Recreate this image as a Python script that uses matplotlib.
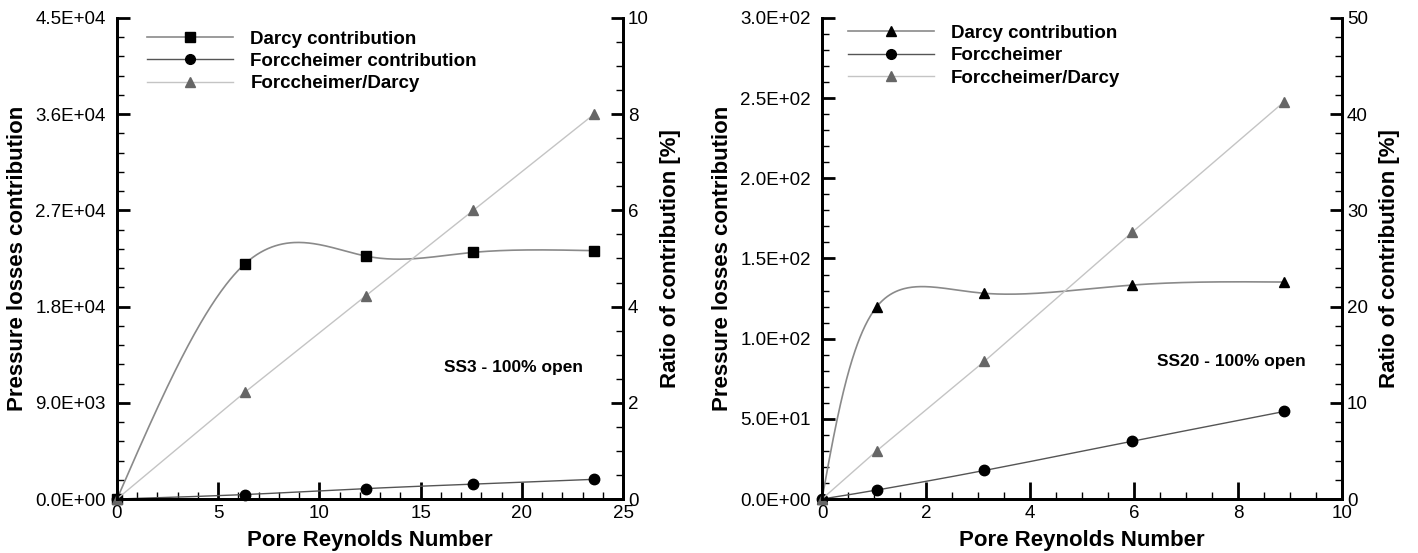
import numpy as np
import matplotlib.pyplot as plt
from matplotlib.ticker import MultipleLocator, FormatStrFormatter
from matplotlib.lines import Line2D

#---    Data
# SS3 panel
re_ss3 = [0.0, 6.32, 12.28, 17.6, 23.57]
darcy_ss3 = [0.0, 22000, 22730, 23070, 23230]
forch_ss3 = [0.0, 420, 973, 1394, 1843]
ratio_ss3 = [0.0, 2.22, 4.22, 6.0, 8.0]

# SS20 panel
re_ss20 = [0.0, 1.05, 3.12, 5.96, 8.89]
darcy_ss20 = [0.0, 119.8, 128.3, 133.4, 135.3]
forch_ss20 = [0.0, 5.6, 17.8, 36.0, 54.6]
ratio_ss20 = [0.0, 5.0, 14.3, 27.7, 41.3]

fs_label = 16
fs_tick = 13.5
fs_leg = 13.5
plt.rcParams['font.family'] = ['Liberation Sans', 'DejaVu Sans']

c_darcy = '#8a8a8a'
c_forch = '#555555'
c_ratio = '#c4c4c4'
c_ratio_mk = '#666666'


def natural(t, y, ts):
    # natural cubic spline of y(t) evaluated at ts
    m = len(t)
    h = np.diff(t)
    A = np.zeros((m, m))
    b = np.zeros(m)
    A[0, 0] = 1
    A[-1, -1] = 1
    for i in range(1, m - 1):
        A[i, i - 1] = h[i - 1]
        A[i, i] = 2 * (h[i - 1] + h[i])
        A[i, i + 1] = h[i]
        b[i] = 6 * ((y[i + 1] - y[i]) / h[i] - (y[i] - y[i - 1]) / h[i - 1])
    M = np.linalg.solve(A, b)
    out = np.empty_like(ts)
    for k, tv in enumerate(ts):
        i = int(np.clip(np.searchsorted(t, tv) - 1, 0, m - 2))
        t1 = t[i + 1] - tv
        t0 = tv - t[i]
        out[k] = (M[i] * t1 ** 3 + M[i + 1] * t0 ** 3) / (6 * h[i]) \
            + (y[i] / h[i] - M[i] * h[i] / 6) * t1 \
            + (y[i + 1] / h[i] - M[i + 1] * h[i] / 6) * t0
    return out


def spline(x, y, n=400):
    # parametric spline (uniform parameter), only for the smooth curve look
    x = np.asarray(x, float)
    y = np.asarray(y, float)
    t = np.arange(len(x), dtype=float)
    ts = np.linspace(0, t[-1], n)
    return natural(t, x, ts), natural(t, y, ts)


def style_axis(ax, ax2):
    for a in (ax, ax2):
        for s in a.spines.values():
            s.set_linewidth(2.0)
        a.spines['top'].set_visible(False)
    ax.tick_params(which='major', direction='in', length=9, width=2, labelsize=fs_tick,
                   right=False, top=False)
    ax.tick_params(which='minor', direction='in', length=5, width=1, right=False, top=False)
    ax.tick_params(axis='x', which='major', length=12, pad=4)
    ax.tick_params(axis='y', which='major', pad=8)
    ax2.tick_params(which='major', direction='in', length=9, width=2, labelsize=fs_tick)
    ax2.tick_params(which='minor', direction='in', length=5, width=1)


fig = plt.figure(figsize=(14.18, 5.53), dpi=100)

panels = [
    dict(pos=[0.0825, 0.0976, 0.3569, 0.870], x=re_ss3, d=darcy_ss3, f=forch_ss3, r=ratio_ss3,
         xlim=25, xmaj=5, xmin=1, ylim=45000, ymaj=9000, ymin=1800, rlim=10, rmaj=2, rmin=0.5,
         dmarker='s', labels=['Darcy contribution', 'Forccheimer contribution', 'Forccheimer/Darcy'],
         note='SS3 - 100% open', note_xy=(19.6, 12300), leg=(0.030, 1.005)),
    dict(pos=[0.5797, 0.0976, 0.3667, 0.870], x=re_ss20, d=darcy_ss20, f=forch_ss20, r=ratio_ss20,
         xlim=10, xmaj=2, xmin=0.5, ylim=300, ymaj=50, ymin=10, rlim=50, rmaj=10, rmin=2,
         dmarker='^', labels=['Darcy contribution', 'Forccheimer', 'Forccheimer/Darcy'],
         note='SS20 - 100% open', note_xy=(7.88, 86), leg=(0.021, 1.017)),
]

for p in panels:
    ax = fig.add_axes(p['pos'])
    ax2 = ax.twinx()

    xs, ys = spline(p['x'], p['d'])
    ax.plot(xs, ys, color=c_darcy, linewidth=1.2, zorder=2)
    ax.plot(p['x'], p['d'], linestyle='none', marker=p['dmarker'], color='black',
            markersize=7.5, zorder=3, clip_on=False)
    xs, ys = spline(p['x'], p['f'])
    ax.plot(xs, ys, color=c_forch, linewidth=1.0, zorder=2)
    ax.plot(p['x'], p['f'], linestyle='none', marker='o', color='black',
            markersize=7.5, zorder=3, clip_on=False)
    ax2.plot(p['x'], p['r'], color=c_ratio, linewidth=1.0, marker='^', markersize=7.5,
             markerfacecolor=c_ratio_mk, markeredgecolor=c_ratio_mk, clip_on=False)

    ax.set_xlim(0, p['xlim'])
    ax.set_ylim(0, p['ylim'])
    ax2.set_ylim(0, p['rlim'])
    ax.xaxis.set_major_locator(MultipleLocator(p['xmaj']))
    ax.xaxis.set_minor_locator(MultipleLocator(p['xmin']))
    ax.yaxis.set_major_locator(MultipleLocator(p['ymaj']))
    ax.yaxis.set_minor_locator(MultipleLocator(p['ymin']))
    ax2.yaxis.set_major_locator(MultipleLocator(p['rmaj']))
    ax2.yaxis.set_minor_locator(MultipleLocator(p['rmin']))
    ax.yaxis.set_major_formatter(FormatStrFormatter('%.1E'))
    ax.xaxis.set_major_formatter(FormatStrFormatter('%g'))
    style_axis(ax, ax2)

    ax.set_xlabel('Pore Reynolds Number', fontsize=fs_label, weight='bold', labelpad=6)
    ax.set_ylabel('Pressure losses contribution', fontsize=fs_label, weight='bold', labelpad=5)
    ax2.set_ylabel('Ratio of contribution [%]', fontsize=fs_label, weight='bold', labelpad=8)

    ax.text(p['note_xy'][0], p['note_xy'][1], p['note'], fontsize=12.5, weight='bold',
            ha='center', va='center')

    handles = [
        Line2D([], [], color=c_darcy, linewidth=1.2, marker=p['dmarker'], markersize=7,
               markerfacecolor='black', markeredgecolor='black'),
        Line2D([], [], color=c_forch, linewidth=1.0, marker='o', markersize=7,
               markerfacecolor='black', markeredgecolor='black'),
        Line2D([], [], color=c_ratio, linewidth=1.0, marker='^', markersize=7,
               markerfacecolor=c_ratio_mk, markeredgecolor=c_ratio_mk),
    ]
    leg = ax2.legend(handles, p['labels'], loc='upper left', bbox_to_anchor=p['leg'],
                     frameon=False, fontsize=fs_leg, handlelength=4.6, handletextpad=0.9,
                     labelspacing=0.28, borderaxespad=0.5, borderpad=0.3)
    for t in leg.get_texts():
        t.set_fontweight('bold')

plt.savefig('out.png', dpi=100)
